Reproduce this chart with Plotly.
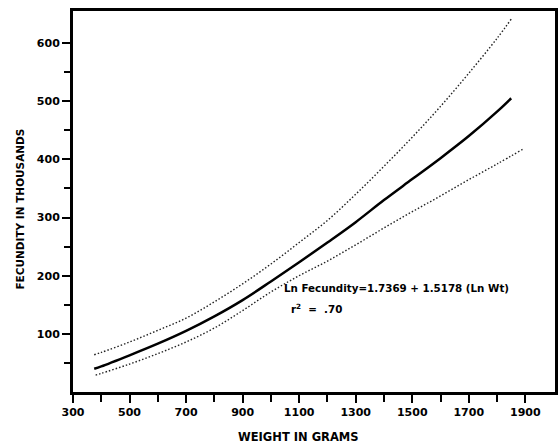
import plotly.graph_objects as go

# Data
weight = [375, 400, 500, 600, 700, 800, 900, 1000, 1100, 1200, 1300, 1400, 1500, 1600, 1700, 1800, 1850]
fecundity = [40, 44, 63, 83, 105, 130, 158, 190, 223, 257, 292, 330, 366, 402, 440, 482, 505]

upper_weight = [375, 400, 500, 600, 700, 800, 900, 1000, 1100, 1200, 1300, 1400, 1500, 1600, 1700, 1800, 1850]
upper_fec = [64, 68, 86, 106, 127, 155, 186, 220, 257, 295, 340, 388, 438, 491, 548, 608, 641]

lower_weight = [380, 400, 500, 600, 700, 800, 900, 1000, 1100, 1200, 1300, 1400, 1500, 1600, 1700, 1800, 1890]
lower_fec = [29, 32, 48, 66, 86, 110, 140, 172, 200, 225, 253, 282, 310, 337, 365, 392, 417]

x_major = [300, 500, 700, 900, 1100, 1300, 1500, 1700, 1900]
x_minor = [400, 600, 800, 1000, 1200, 1400, 1600, 1800]
y_major = [100, 200, 300, 400, 500, 600]
y_minor = [50, 150, 250, 350, 450, 550]

equation = "Ln Fecundity=1.7369 + 1.5178 (Ln Wt)"
r2_text = "r<sup>2</sup>  =  .70"

FONT = "DejaVu Sans"

fig = go.Figure()
fig.add_trace(go.Scatter(x=upper_weight, y=upper_fec, mode="lines",
                         line=dict(color="#222", width=1.4, dash="1.5px,2px", shape="spline"),
                         showlegend=False, hoverinfo="skip"))
fig.add_trace(go.Scatter(x=lower_weight, y=lower_fec, mode="lines",
                         line=dict(color="#222", width=1.4, dash="1.5px,2px", shape="spline"),
                         showlegend=False, hoverinfo="skip"))
fig.add_trace(go.Scatter(x=weight, y=fecundity, mode="lines",
                         line=dict(color="black", width=2.5, shape="spline"),
                         showlegend=False, hoverinfo="skip"))

axis_common = dict(
    showgrid=False, zeroline=False, showline=True, linecolor="black", linewidth=3,
    mirror=True, ticks="outside", tickcolor="black", tickwidth=2, ticklen=8,
    tickfont=dict(family=FONT, size=11, color="black", weight="bold"),
)

fig.update_layout(
    width=559, height=446,
    margin=dict(l=73, r=1, t=11, b=54),
    paper_bgcolor="white", plot_bgcolor="white",
    xaxis=dict(range=[300, 2005], tickmode="array", tickvals=x_major,
               ticktext=[str(v) for v in x_major],
               minor=dict(tickmode="array", tickvals=x_minor, ticks="outside",
                          ticklen=7, tickwidth=2, tickcolor="black"),
               **axis_common),
    yaxis=dict(range=[0, 655], tickmode="array", tickvals=y_major,
               ticktext=[str(v) for v in y_major],
               minor=dict(tickmode="array", tickvals=y_minor, ticks="outside",
                          ticklen=6, tickwidth=2, tickcolor="black"),
               **axis_common),
    annotations=[
        dict(text="FECUNDITY IN THOUSANDS", xref="paper", yref="paper",
             x=-0.109, y=0.48, textangle=-90, showarrow=False,
             xanchor="center", yanchor="middle",
             font=dict(family=FONT, size=10.5, color="black", weight="bold")),
        dict(text="WEIGHT IN GRAMS", xref="paper", yref="paper",
             x=0.468, y=-0.118, showarrow=False, xanchor="center", yanchor="middle",
             font=dict(family=FONT, size=11.5, color="black", weight="bold")),
        dict(text=equation, xref="paper", yref="paper",
             x=0.433, y=0.273, showarrow=False, xanchor="left", yanchor="middle",
             font=dict(family=FONT, size=10.3, color="black", weight="bold")),
        dict(text=r2_text, xref="paper", yref="paper",
             x=0.449, y=0.218, showarrow=False, xanchor="left", yanchor="middle",
             font=dict(family=FONT, size=10.3, color="black", weight="bold")),
    ],
)

fig.write_html(
    "out.html",
    config={"displayModeBar": False},
    post_script="document.body.style.margin='0';document.body.style.overflow='hidden';",
)
